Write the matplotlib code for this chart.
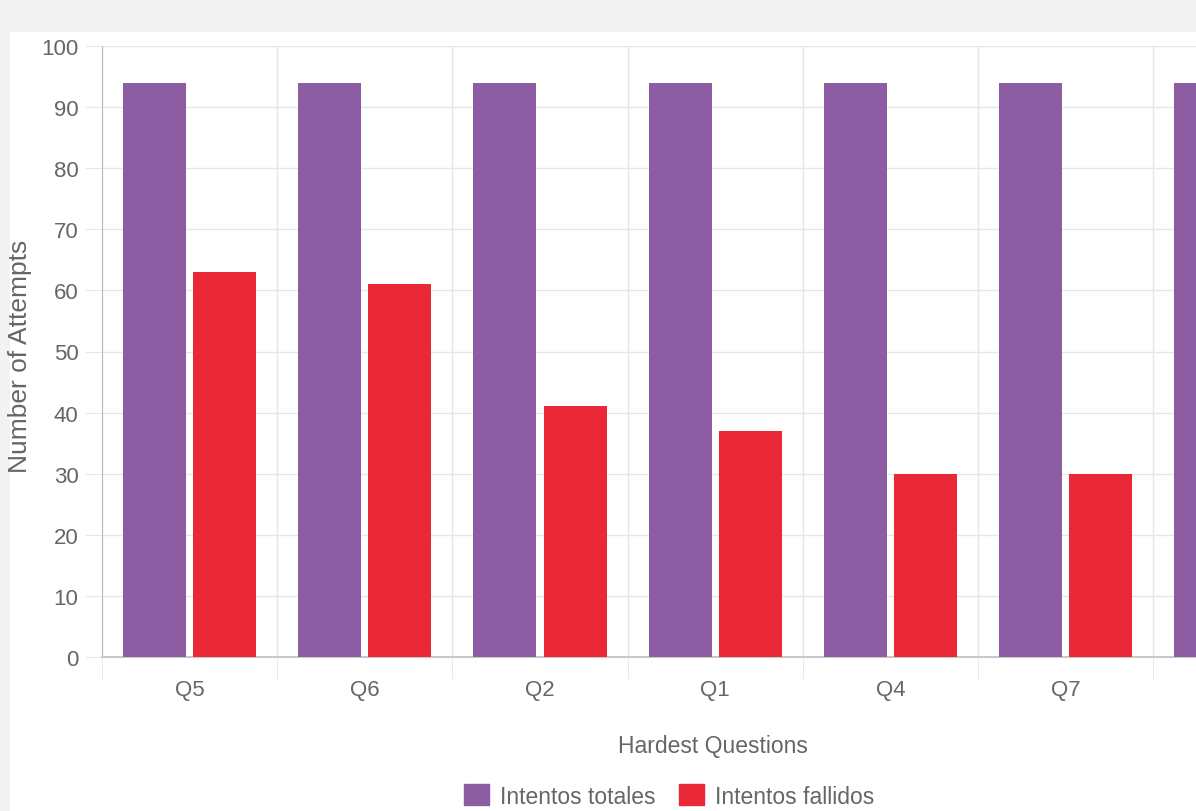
import matplotlib
matplotlib.use("Agg")
import matplotlib.pyplot as plt
import matplotlib.patches as mpatches
import numpy as np

plt.rcParams['font.family'] = ['Liberation Sans', 'DejaVu Sans']

# last category is cut off at the right edge of the screenshot (label not visible)
questions = ['Q5', 'Q6', 'Q2', 'Q1', 'Q4', 'Q7', '']
intentos_totales = [94, 94, 94, 94, 94, 94, 94]
intentos_fallidos = [63, 61, 41, 37, 30, 30, 28]

purple = '#8c5da2'
red = '#e92838'
txt = '#666666'
grid_c = '#e6e6e6'

W, H = 1196, 812
fig = plt.figure(figsize=(W / 100, H / 100), dpi=100, facecolor='#f2f2f2')
# white panel of the page
panel = mpatches.Rectangle((10 / W, 0), 1, 1 - 33 / H, transform=fig.transFigure,
                           facecolor='white', edgecolor='none', zorder=-10)
fig.add_artist(panel)

n = len(questions)
slot = 175.2
ax = fig.add_axes([102 / W, (H - 658) / H, n * slot / W, (658 - 47) / H])
ax.set_zorder(1)
ax.set_facecolor('none')

x = np.arange(n)
bw = 0.36
ax.bar(x - 0.2, intentos_totales, width=bw, color=purple, zorder=3, label='Intentos totales')
ax.bar(x + 0.2, intentos_fallidos, width=bw, color=red, zorder=3, label='Intentos fallidos')

ax.set_xlim(-0.5, n - 0.5)
ax.set_ylim(0, 100)
ax.set_yticks(range(0, 101, 10))
ax.set_xticks(x)
ax.set_xticklabels(questions)
ax.set_xticks(np.arange(n + 1) - 0.5, minor=True)

ax.grid(True, axis='y', color=grid_c, linewidth=1, zorder=0)
ax.grid(True, axis='x', which='minor', color=grid_c, linewidth=1, zorder=0)

for s in ['top', 'right']:
    ax.spines[s].set_visible(False)
ax.spines['left'].set_color('#bbbbbb')
ax.spines['bottom'].set_color('#c8c8c8')
ax.spines['bottom'].set_linewidth(1.5)

ax.tick_params(axis='y', length=12, color=grid_c, labelsize=16, labelcolor=txt, pad=5)
ax.tick_params(axis='x', which='major', length=0, labelsize=16, labelcolor=txt, pad=16)
ax.tick_params(axis='x', which='minor', length=16, color=grid_c)

fig.text(20 / W, 1 - 356 / H, 'Number of Attempts', rotation=90, ha='center', va='center',
         fontsize=19, color=txt)
fig.text(713 / W, 1 - 747 / H, 'Hardest Questions', ha='center', va='center',
         fontsize=16.5, color=txt)

handles = [mpatches.Patch(color=purple), mpatches.Patch(color=red)]
fig.legend(handles, ['Intentos totales', 'Intentos fallidos'], loc='center',
           bbox_to_anchor=(669 / W, 1 - 797 / H), ncol=2, frameon=False,
           fontsize=16.5, labelcolor=txt, handlelength=1.1, handleheight=1.0,
           handletextpad=0.5, columnspacing=1.0)

fig.savefig('out.png', dpi=100, facecolor=fig.get_facecolor())
